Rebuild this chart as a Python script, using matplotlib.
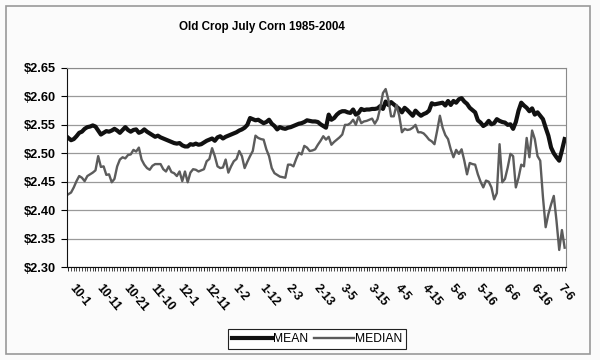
import matplotlib
matplotlib.use("Agg")
import matplotlib.pyplot as plt
from matplotlib.patches import Rectangle
from matplotlib.transforms import ScaledTranslation

plt.rcParams['font.family'] = ['Liberation Sans', 'DejaVu Sans']

# Old crop July corn, average price by trading day (1985-2004)
mean = [
    2.527, 2.523, 2.525, 2.530, 2.536, 2.538, 2.543, 2.546, 2.547, 2.549,
    2.547, 2.540, 2.533, 2.536, 2.539, 2.538, 2.540, 2.543, 2.540, 2.536,
    2.541, 2.546, 2.541, 2.538, 2.541, 2.542, 2.536, 2.538, 2.542, 2.538,
    2.535, 2.532, 2.529, 2.531, 2.528, 2.526, 2.524, 2.522, 2.520, 2.518,
    2.517, 2.518, 2.514, 2.512, 2.512, 2.516, 2.515, 2.517, 2.515, 2.516,
    2.519, 2.522, 2.524, 2.526, 2.522, 2.528, 2.530, 2.526, 2.529, 2.531,
    2.533, 2.535, 2.537, 2.540, 2.542, 2.545, 2.550, 2.562, 2.560, 2.558,
    2.559, 2.556, 2.553, 2.555, 2.559, 2.552, 2.548, 2.542, 2.546, 2.544,
    2.543, 2.545, 2.546, 2.548, 2.550, 2.552, 2.553, 2.555, 2.558, 2.557,
    2.556, 2.556, 2.555, 2.551, 2.548, 2.545, 2.568, 2.559, 2.562, 2.568,
    2.572, 2.574, 2.574, 2.572, 2.571, 2.577, 2.568, 2.571, 2.578, 2.576,
    2.577, 2.577, 2.578, 2.578, 2.579, 2.583, 2.578, 2.591, 2.585, 2.590,
    2.586, 2.582, 2.578, 2.572, 2.580, 2.576, 2.571, 2.566, 2.575, 2.570,
    2.566, 2.569, 2.571, 2.575, 2.588, 2.586, 2.587, 2.588, 2.589, 2.584,
    2.592, 2.585, 2.592, 2.589, 2.595, 2.597, 2.591, 2.587, 2.580, 2.576,
    2.572, 2.558, 2.554, 2.548, 2.551, 2.557, 2.551, 2.553, 2.560, 2.557,
    2.555, 2.554, 2.550, 2.551, 2.543, 2.555, 2.575, 2.589, 2.584, 2.580,
    2.574, 2.579, 2.568, 2.572, 2.566, 2.560, 2.545, 2.531, 2.510, 2.500,
    2.493, 2.487, 2.505, 2.525,
]

median = [
    2.428, 2.431, 2.440, 2.451, 2.460, 2.457, 2.451, 2.460, 2.463, 2.466,
    2.470, 2.495, 2.476, 2.477, 2.462, 2.463, 2.449, 2.455, 2.477, 2.489,
    2.493, 2.491, 2.497, 2.498, 2.506, 2.503, 2.510, 2.489, 2.480, 2.474,
    2.471, 2.478, 2.481, 2.481, 2.481, 2.472, 2.468, 2.477, 2.467, 2.465,
    2.460, 2.468, 2.451, 2.468, 2.449, 2.466, 2.472, 2.471, 2.468, 2.470,
    2.472, 2.486, 2.490, 2.509, 2.495, 2.477, 2.474, 2.475, 2.489, 2.466,
    2.477, 2.486, 2.490, 2.504, 2.495, 2.474, 2.485, 2.495, 2.504, 2.531,
    2.527, 2.525, 2.524, 2.507, 2.495, 2.474, 2.465, 2.462, 2.459, 2.458,
    2.457, 2.480, 2.480, 2.477, 2.490, 2.501, 2.498, 2.513, 2.510, 2.504,
    2.505, 2.507, 2.515, 2.522, 2.530, 2.524, 2.529, 2.515, 2.520, 2.524,
    2.528, 2.533, 2.550, 2.550, 2.553, 2.559, 2.550, 2.565, 2.553, 2.556,
    2.557, 2.559, 2.561, 2.552, 2.560, 2.580, 2.606, 2.613, 2.594, 2.565,
    2.565, 2.585, 2.566, 2.537, 2.543, 2.541, 2.542, 2.545, 2.550, 2.537,
    2.537, 2.535, 2.530, 2.524, 2.521, 2.516, 2.540, 2.566, 2.545, 2.532,
    2.525, 2.507, 2.493, 2.506, 2.499, 2.507, 2.487, 2.463, 2.483, 2.481,
    2.480, 2.463, 2.450, 2.440, 2.452, 2.450, 2.440, 2.419, 2.430, 2.516,
    2.449, 2.455, 2.475, 2.499, 2.495, 2.440, 2.457, 2.480, 2.477, 2.527,
    2.493, 2.540, 2.525, 2.495, 2.487, 2.423, 2.370, 2.393, 2.410, 2.425,
    2.381, 2.330, 2.365, 2.334,
]

date_labels = ['10-1', '10-11', '10-21', '11-10', '12-1', '12-11', '1-2', '1-12',
               '2-3', '2-13', '3-5', '3-15', '4-5', '4-15', '5-6', '5-16',
               '6-6', '6-16', '7-6']

days = list(range(len(mean)))

fig = plt.figure(figsize=(6, 3.6), dpi=100, facecolor='#fbfbfb')
ax = fig.add_axes([67/600, 1 - 267/360, 499/600, 199/360])

ax.plot(days, mean, color='#111111', lw=3.0, label='MEAN', solid_joinstyle='round')
ax.plot(days, median, color='#5c5c5c', lw=1.7, label='MEDIAN')

ax.set_ylim(2.30, 2.65)
ax.set_yticks([2.30 + 0.05 * k for k in range(8)])
ax.set_yticklabels(['$%.2f' % (2.30 + 0.05 * k) for k in range(8)])
ax.set_xlim(-0.5, len(mean) - 0.5)
ax.set_xticks(range(0, len(mean), 10))
ax.set_xticks(days, minor=True)
ax.set_xticklabels(date_labels)

ax.grid(axis='y', color='#9a9a9a', lw=0.9)
ax.set_axisbelow(True)

for s in ['top', 'right']:
    ax.spines[s].set_color('#8a8a8a')
for s in ['left', 'bottom']:
    ax.spines[s].set_color('#111111')

ax.tick_params(axis='y', length=4, pad=4, labelsize=9.2, width=0.8)
ax.tick_params(axis='x', which='major', length=3, width=0.6, pad=11, labelsize=8.7)
ax.tick_params(axis='x', which='minor', length=3, width=0.5)

off = ScaledTranslation(3/100, 0, fig.dpi_scale_trans)
for lbl in ax.get_xticklabels():
    lbl.set_rotation(-50)
    lbl.set_ha('left')
    lbl.set_va('center')
    lbl.set_rotation_mode('anchor')
    lbl.set_fontweight('bold')
    lbl.set_transform(lbl.get_transform() + off)
for lbl in ax.get_yticklabels():
    lbl.set_fontweight('bold')

fig.text(262/600, 1 - 27/360, 'Old Crop July Corn 1985-2004', ha='center', va='center',
         fontsize=8.4, fontweight='bold')

leg = fig.legend(loc='center', bbox_to_anchor=(317/600, 1 - 339/360), ncol=2,
                 fontsize=8.7, handlelength=3.3, handletextpad=0.1, columnspacing=0.5,
                 borderpad=0.3, fancybox=False, framealpha=1, edgecolor='#222222')
leg.get_frame().set_linewidth(0.8)

fig.patches.append(Rectangle((6/600, 6/360), 584/600, 348/360, transform=fig.transFigure,
                             fill=False, edgecolor='#999999', lw=1.2))

fig.savefig('out.png', dpi=100, facecolor=fig.get_facecolor())
